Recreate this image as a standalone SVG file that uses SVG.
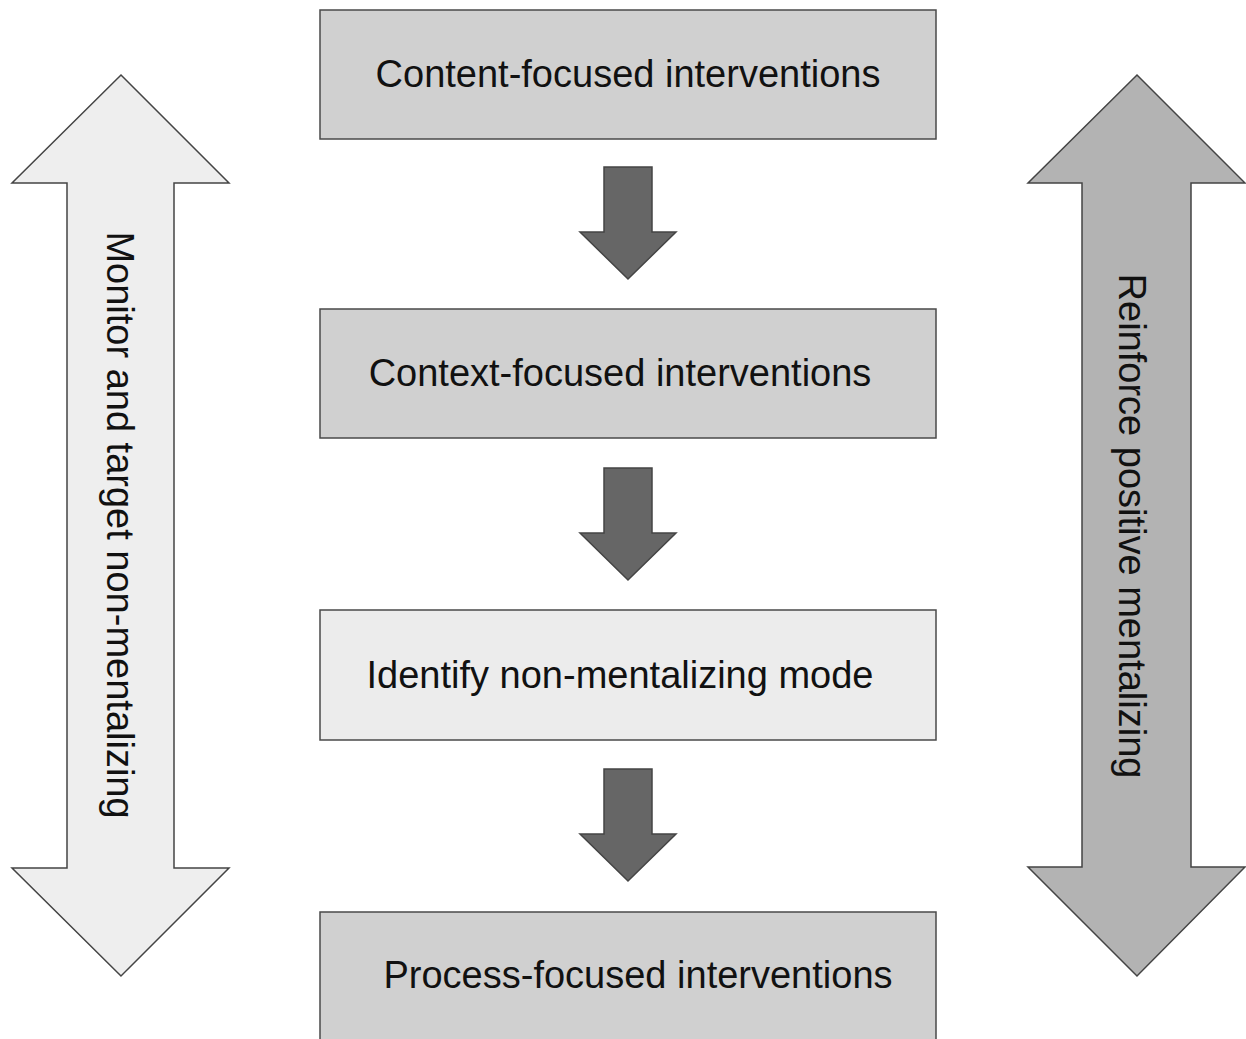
<svg xmlns="http://www.w3.org/2000/svg" width="1246" height="1039" viewBox="0 0 1246 1039">
  <style>
    .box { stroke: #4a4a4a; stroke-width: 1.5; }
    .mid { fill: #d0d0d0; }
    .light { fill: #ececec; }
    .label { font-family: "Liberation Sans", Arial, Helvetica, sans-serif; font-size: 38px; fill: #111; }
    .flow { fill: #666666; stroke: #444444; stroke-width: 1.5; stroke-linejoin: miter; }
    .side { stroke: #444444; stroke-width: 1.5; stroke-linejoin: miter; }
  </style>
  <rect width="1246" height="1039" fill="#ffffff"/>

  <!-- side double arrows -->
  <g id="monitor">
    <polygon class="side" fill="#eeeeee" points="121,75 229,183 174,183 174,868 229,868 121,976 12,868 67,868 67,183 12,183"/>
    <text class="label" text-anchor="middle" transform="translate(107,525) rotate(90)">Monitor and target non-mentalizing</text>
  </g>
  <g id="reinforce">
    <polygon class="side" fill="#b3b3b3" points="1137,75 1245,183 1191,183 1191,867 1245,867 1137,976 1028,867 1082,867 1082,183 1028,183"/>
    <text class="label" text-anchor="middle" transform="translate(1119,526) rotate(90)">Reinforce positive mentalizing</text>
  </g>

  <!-- step boxes -->
  <g id="content">
    <rect class="box mid" x="320" y="10" width="616" height="129"/>
    <text class="label" x="628" y="87" text-anchor="middle">Content-focused interventions</text>
  </g>
  <g id="context">
    <rect class="box mid" x="320" y="309" width="616" height="129"/>
    <text class="label" x="620" y="386" text-anchor="middle">Context-focused interventions</text>
  </g>
  <g id="identify">
    <rect class="box light" x="320" y="610" width="616" height="130"/>
    <text class="label" x="620" y="688" text-anchor="middle">Identify non-mentalizing mode</text>
  </g>
  <g id="process">
    <rect class="box mid" x="320" y="912" width="616" height="140"/>
    <text class="label" x="638" y="988" text-anchor="middle">Process-focused interventions</text>
  </g>

  <!-- connectors between steps -->
  <g id="connectors">
    <polygon class="flow" points="604,167 652,167 652,232 676,232 628,279 580,232 604,232"/>
    <polygon class="flow" points="604,468 652,468 652,533 676,533 628,580 580,533 604,533"/>
    <polygon class="flow" points="604,769 652,769 652,834 676,834 628,881 580,834 604,834"/>
  </g>
</svg>
